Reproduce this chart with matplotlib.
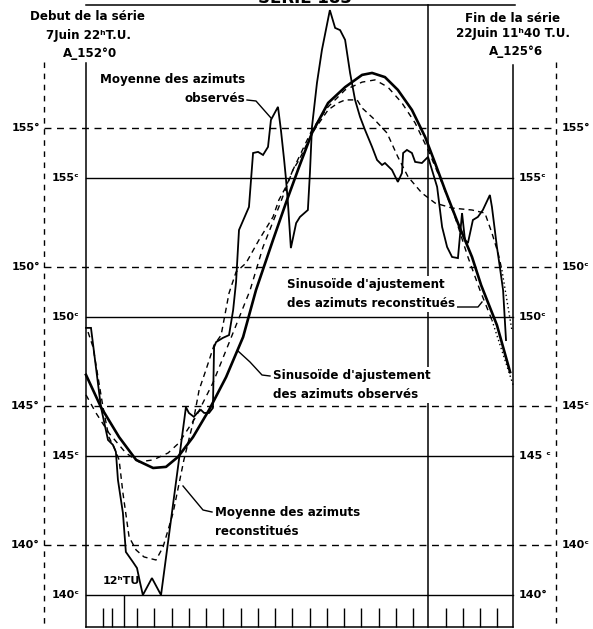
import matplotlib.pyplot as plt
from matplotlib.transforms import blended_transform_factory as blend

W, H = 593, 629

# x = day of June (7 Juin 22h -> 22 Juin 11h40 T.U.), y = azimut in degrees
obs_day = [7.92, 8.09, 8.43, 8.67, 8.84, 8.94, 9.01, 9.18, 9.28, 9.52, 9.66, 9.76, 9.86,
           10.17, 10.48, 11.33, 11.43, 11.60, 11.74, 11.84, 11.95, 12.12, 12.25, 12.29,
           12.36, 12.59, 12.80, 12.94, 13.04, 13.14, 13.48, 13.62, 13.79, 13.96, 14.13,
           14.23, 14.47, 14.57, 14.68, 14.74, 14.81, 14.91, 15.09, 15.22, 15.49, 15.56,
           15.63, 15.80, 15.97, 16.24, 16.42, 16.59, 16.76, 16.93, 17.10, 17.27, 17.44,
           17.68, 17.85, 18.02, 18.12, 18.36, 18.56, 18.70, 18.74, 18.87, 19.04, 19.15,
           19.38, 19.59, 19.90, 20.07, 20.24, 20.41, 20.61, 20.75, 20.85, 20.95, 21.12,
           21.29, 21.46, 21.70, 21.77, 21.94, 22.04, 22.15, 22.25]
obs_deg = [147.81, 147.81, 144.96, 143.78, 143.60, 143.35, 142.34, 141.15, 139.75, 139.39,
           139.17, 138.67, 138.20, 138.81, 138.20, 144.96, 144.75, 144.61, 144.78, 144.86,
           144.75, 144.75, 144.93, 147.12, 147.30, 147.45, 147.55, 148.45, 149.46, 151.33,
           152.16, 154.10, 154.14, 154.03, 154.32, 155.29, 155.76, 154.93, 153.85, 153.20,
           152.30, 150.68, 151.58, 151.80, 152.05, 153.38, 155.04, 156.62, 157.81, 159.24,
           158.60, 158.52, 158.17, 156.98, 156.01, 155.40, 154.93, 154.32, 153.85, 153.67,
           153.74, 153.49, 153.06, 153.38, 154.10, 154.21, 154.10, 153.78, 153.74, 153.96,
           152.88, 151.44, 150.72, 150.36, 150.32, 151.94, 150.97, 150.86, 151.69, 151.80,
           152.05, 152.59, 152.16, 150.72, 150.00, 149.17, 147.37]

rec_day = [7.99, 8.16, 8.50, 8.70, 8.87, 9.05, 9.18, 9.39, 9.63, 9.90, 10.31, 10.55, 10.89,
           11.26, 11.57, 11.78, 12.01, 12.29, 12.53, 12.80, 13.04, 13.38, 13.82, 14.30,
           14.50, 14.74, 14.98, 15.19, 15.66, 16.18, 16.52, 16.76, 17.17, 17.34, 17.71,
           18.19, 18.56, 18.91, 19.38, 19.83, 20.41, 21.09, 21.53, 21.77, 21.98, 22.11]
rec_deg = [147.66, 147.12, 144.96, 143.88, 143.53, 143.06, 141.87, 140.29, 139.82, 139.57,
           139.46, 139.93, 141.15, 143.06, 144.39, 145.58, 146.29, 147.19, 147.55, 149.06,
           149.82, 150.14, 150.97, 151.80, 152.41, 152.88, 153.49, 153.85, 154.86, 155.65,
           155.90, 156.01, 156.01, 155.72, 155.36, 154.82, 153.96, 153.24, 152.66, 152.30,
           152.12, 152.05, 151.94, 151.22, 150.50, 149.89]
rec_tail_day = [22.11, 22.45]
rec_tail_deg = [149.89, 147.73]

fit_obs_day = [7.92, 8.43, 9.05, 9.63, 10.21, 10.65, 11.06, 11.57, 12.12, 12.70, 13.28,
               13.72, 14.30, 14.74, 15.19, 15.63, 16.18, 16.76, 17.34, 17.68, 18.12, 18.56,
               19.04, 19.49, 19.83, 20.17, 20.61, 21.09, 21.40, 21.94, 22.39]
fit_obs_deg = [146.12, 144.96, 143.88, 143.06, 142.77, 142.81, 143.17, 143.88, 144.86,
               146.04, 147.48, 149.17, 150.97, 152.30, 153.60, 154.82, 155.90, 156.47,
               156.91, 156.98, 156.83, 156.37, 155.65, 154.68, 153.74, 152.77, 151.58,
               150.36, 149.35, 147.91, 146.22]

fit_rec_day = [7.92, 8.26, 8.70, 9.28, 9.73, 10.21, 10.72, 11.09, 11.67, 12.25, 12.80, 13.52,
               13.96, 14.50, 14.98, 15.63, 16.18, 16.76, 17.34, 17.78, 18.22, 18.70, 19.15,
               19.59, 20.07, 20.51, 20.95, 21.36, 21.77]
fit_rec_deg = [145.40, 144.75, 144.03, 143.31, 142.99, 143.06, 143.31, 143.67, 144.61,
               145.83, 147.27, 149.17, 150.72, 152.16, 153.49, 154.93, 155.76, 156.37,
               156.65, 156.73, 156.47, 155.90, 155.18, 154.21, 153.02, 151.80, 150.36,
               149.17, 148.09]
fit_rec_tail_day = [21.77, 22.49]
fit_rec_tail_deg = [148.09, 145.76]

deg_lines = [155, 150, 145, 140]
grade_lines = [155, 150, 145, 140]
GRADE_SHIFT = 1.8  # the solid (grade) lines sit this far below the dashed (degree) ones
left_outer = ['155°', '150°', '145°', '140°']
left_inner = ['155ᶜ', '150ᶜ', '145ᶜ', '140ᶜ']
right_inner = ['155ᶜ', '150ᶜ', '145 ᶜ', '140°']
right_outer = ['155°', '150ᶜ', '145ᶜ', '140ᶜ']

start_day, end_day, split_day = 7.92, 22.49, 19.59
tick_days = [8.50, 8.81, 9.66, 10.24, 10.85, 11.43, 12.01, 12.59, 13.21, 13.79, 14.37,
             14.95, 15.56, 16.14, 16.72, 17.30, 17.92, 18.50, 19.08, 20.20, 20.78, 21.36,
             21.94]
noon_day = 9.22


def fx(px):
    return px / W


def fy(py):
    return 1 - py / H


plt.rcParams['font.family'] = ['DejaVu Sans']
fig = plt.figure(figsize=(W / 100, H / 100), dpi=100)
ax = fig.add_axes([0, 0, 1, 1])
ax.set_xlim(4.986, 25.218)
ax.set_ylim(136.978, 159.604)
ax.axis('off')

tx = blend(fig.transFigure, ax.transData)   # x in figure, y in degrees
ty = blend(ax.transData, fig.transFigure)   # x in days, y in figure
tf = fig.transFigure
K = 'black'
dash = (0, (5, 4))

# grid: dashed degree lines, solid grade lines
for d in deg_lines:
    ax.plot([fx(44), fx(556)], [d, d], transform=tx, color=K, lw=1.0, ls=dash)
for g in grade_lines:
    ax.plot([fx(86), fx(513)], [g - GRADE_SHIFT] * 2, transform=tx, color=K, lw=1.0)

# frame
ax.plot([start_day] * 2, [fy(63), fy(627)], transform=ty, color=K, lw=1.1)
ax.plot([end_day] * 2, [fy(65), fy(627)], transform=ty, color=K, lw=1.1)
ax.plot([split_day] * 2, [fy(5), fy(627)], transform=ty, color=K, lw=1.1)
ax.plot([fx(86), fx(515)], [fy(5)] * 2, transform=tf, color=K, lw=1.1)
ax.plot([fx(86), fx(513)], [fy(627)] * 2, transform=tf, color=K, lw=1.1)
for px in (44, 556):
    ax.plot([fx(px)] * 2, [fy(62), fy(627)], transform=tf, color=K, lw=1.0,
            ls=(0, (4, 4)))
ax.vlines(tick_days, fy(608), fy(627), transform=ty, color=K, lw=1.0)
ax.vlines([noon_day], fy(595), fy(627), transform=ty, color=K, lw=1.0)

# curves
ax.plot(obs_day, obs_deg, color=K, lw=1.3, solid_joinstyle='miter')
ax.plot(rec_day, rec_deg, color=K, lw=1.0, ls=(0, (4, 3)))
ax.plot(rec_tail_day, rec_tail_deg, color=K, lw=1.0, ls=(0, (1, 2)))
ax.plot(fit_obs_day, fit_obs_deg, color=K, lw=1.9)
ax.plot(fit_rec_day, fit_rec_deg, color=K, lw=1.0, ls=(0, (4, 3.5)))
ax.plot(fit_rec_tail_day, fit_rec_tail_deg, color=K, lw=1.0, ls=(0, (1, 2)))

# axis labels
num = dict(fontsize=8, fontweight='bold', va='center', transform=tx)
for i in range(4):
    ax.text(fx(40), deg_lines[i], left_outer[i], ha='right', **num)
    ax.text(fx(52), grade_lines[i] - GRADE_SHIFT, left_inner[i], ha='left', **num)
    ax.text(fx(519), grade_lines[i] - GRADE_SHIFT, right_inner[i], ha='left', **num)
    ax.text(fx(562), deg_lines[i], right_outer[i], ha='left', **num)

txt = dict(fontsize=8.6, fontweight='bold', transform=tf, va='center')
ax.text(fx(305), fy(-2), 'SERIE 183', fontsize=12, fontweight='bold', ha='center',
        va='center', transform=tf)
ax.text(fx(87), fy(17), 'Debut de la série', ha='center', **txt)
ax.text(fx(89), fy(35), '7Juin 22ʰT.U.', ha='center', **txt)
ax.text(fx(90), fy(53), 'A_152°0', ha='center', **txt)
ax.text(fx(513), fy(18), 'Fin de la série', ha='center', **txt)
ax.text(fx(513), fy(34), '22Juin 11ʰ40 T.U.', ha='center', **txt)
ax.text(fx(516), fy(52), 'A_125°6', ha='center', **txt)

box = dict(facecolor='white', edgecolor='none', pad=1.5)
ax.text(fx(100), fy(79), 'Moyenne des azimuts', ha='left', **txt)
ax.text(fx(245), fy(99), 'observés', ha='right', **txt)
ax.text(fx(287), fy(294), "Sinusoïde d'ajustement\ndes azimuts reconstitués", ha='left',
        linespacing=1.6, bbox=box, **txt)
ax.text(fx(273), fy(385), "Sinusoïde d'ajustement\ndes azimuts observés", ha='left',
        linespacing=1.6, bbox=box, **txt)
ax.text(fx(215), fy(522), 'Moyenne des azimuts\nreconstitués', ha='left',
        linespacing=1.6, **txt)
ax.text(fx(103), fy(581), '12ʰTU', ha='left', fontsize=8, fontweight='bold',
        va='center', transform=tf)

# leader lines
for pts in ([(247, 100), (256, 101), (271, 118)],
            [(455, 307), (478, 307), (482, 302)],
            [(270, 376), (262, 375), (250, 362), (238, 351)],
            [(212, 512), (203, 510), (183, 486)]):
    ax.plot([fx(p[0]) for p in pts], [fy(p[1]) for p in pts], transform=tf,
            color=K, lw=1.0)

fig.savefig('out.png', dpi=100, facecolor='white')
